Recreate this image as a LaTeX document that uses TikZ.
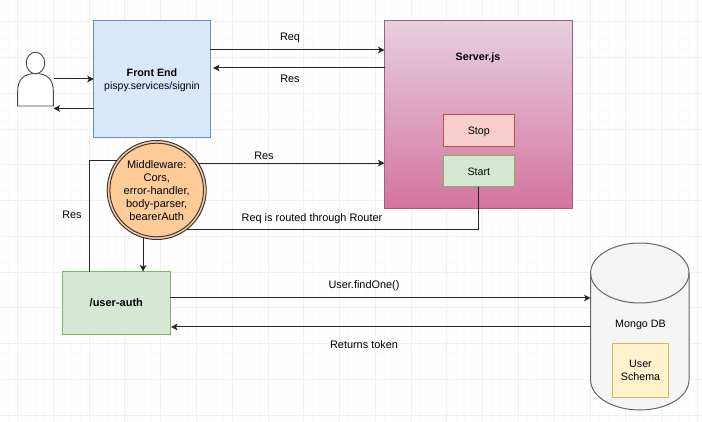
\documentclass[tikz,border=0pt]{standalone}
\usepackage{fontspec}
\setmainfont{Liberation Sans}
\usetikzlibrary{arrows.meta,shapes.geometric}
\definecolor{gridmajor}{HTML}{F0F0F0}
\definecolor{gridminor}{HTML}{FBFBFB}
\newcommand\tops[1][10.4pt]{\rule{0pt}{#1}}
\newcommand\bots{\rule[-2.2pt]{0pt}{0pt}}
\tikzset{
  x=1pt,y=-1pt,
  every node/.style={inner sep=0pt,outer sep=0pt,font=\fontsize{10.7}{13}\selectfont,align=center,text=black},
  conn/.style={line width=1pt,draw=black!85},
  arrowconn/.style={conn,-{Stealth[length=6.5pt,width=6.5pt,inset=1.5pt]}},
  lbl/.style={font=\fontsize{10.9}{13}\selectfont},
  strong/.style={font=\fontsize{10.7}{13}\selectfont\bfseries},
}
\begin{document}
\begin{tikzpicture}
\useasboundingbox (0,0) rectangle (702,422);
\fill[white] (0,0) rectangle (702,422);
% grid
\foreach \i in {-2,...,78} {
  \draw[gridminor,line width=0.8pt] ({17.6+8.945*\i},0) -- ({17.6+8.945*\i},422);
}
\foreach \i in {-2,...,46} {
  \draw[gridminor,line width=0.8pt] (0,{21.7+8.945*\i}) -- (702,{21.7+8.945*\i});
}
\foreach \i in {0,...,19} {
  \draw[gridmajor,line width=1pt] ({17.6+35.78*\i},0) -- ({17.6+35.78*\i},422);
}
\foreach \i in {0,...,11} {
  \draw[gridmajor,line width=1pt] (0,{21.7+35.78*\i}) -- (702,{21.7+35.78*\i});
}
% actor
\draw[line width=0.9pt,draw=black!72,fill=white]
  (17.6,106) -- (17.6,92) .. controls (17.6,79) and (24,73.5) .. (35.5,73.5)
  .. controls (47,73.5) and (53.4,79) .. (53.4,92) -- (53.4,106) -- cycle;
\draw[line width=0.9pt,draw=black!72,fill=white] (35.5,63) ellipse [x radius=9.2,y radius=10.8];
\coordinate (actorin) at (53.5,79);
\coordinate (actorout) at (53.5,108.5);
% boxes
\node[rectangle,draw={rgb,255:red,108;green,142;blue,191},fill={rgb,255:red,218;green,232;blue,252},line width=1pt,minimum width=116.5pt,minimum height=116.5pt] (fe) at (152,79) {\tops[11pt]\textbf{Front End}\\\fontsize{10.5}{13}\selectfont pispy.services/signin\bots};
\node[rectangle,draw={rgb,255:red,153;green,97;blue,133},top color={rgb,255:red,230;green,208;blue,222},bottom color={rgb,255:red,213;green,115;blue,157},line width=1pt,minimum width=188pt,minimum height=188pt] (server) at (478.5,115) {};
\node[strong] (servertitle) at (478,58) {Server.js};
\node[rectangle,draw={rgb,255:red,184;green,84;blue,80},fill={rgb,255:red,248;green,206;blue,204},line width=1pt,minimum width=71.5pt,minimum height=31.5pt] (stop) at (478.8,130.5) {\tops Stop\bots};
\node[rectangle,draw={rgb,255:red,130;green,179;blue,102},fill={rgb,255:red,213;green,232;blue,212},line width=1pt,minimum width=71.5pt,minimum height=31.5pt] (start) at (478.8,171) {\tops Start\bots};
\node[circle,draw={rgb,255:red,54;green,57;blue,61},fill={rgb,255:red,255;green,204;blue,153},line width=1pt,minimum size=99pt] (mw) at (156.7,190) {};
\node[circle,draw={rgb,255:red,54;green,57;blue,61},line width=1pt,minimum size=93pt,font=\fontsize{11}{13}\selectfont] (mwinner) at (156.7,190) {\tops[12pt]Middleware:\\Cors,\\error-handler,\\body-parser,\\bearerAuth\bots};
\node[rectangle,draw={rgb,255:red,130;green,179;blue,102},fill={rgb,255:red,213;green,232;blue,212},line width=1pt,minimum width=107.5pt,minimum height=62.5pt,font=\fontsize{11}{13}\selectfont] (ua) at (116.3,302.8) {\tops\textbf{/user-auth}\bots};
% database
\draw[line width=1pt,draw={rgb,255:red,102;green,102;blue,102},fill={rgb,255:red,245;green,245;blue,245}]
  (590.6,273) -- (590.6,380) arc[start angle=180,end angle=360,x radius=49.2,y radius=-30]
  -- (689,273) arc[start angle=0,end angle=180,x radius=49.2,y radius=-30] -- cycle;
\draw[line width=1pt,draw={rgb,255:red,102;green,102;blue,102}]
  (590.6,273) arc[start angle=180,end angle=360,x radius=49.2,y radius=-30];
\coordinate (dbwest) at (590.6,300);
\node (db) at (640.5,325) {Mongo DB};
\node[rectangle,draw={rgb,255:red,214;green,182;blue,86},fill={rgb,255:red,255;green,242;blue,204},line width=1pt,minimum width=55.5pt,minimum height=54pt] (schema) at (640.5,370) {\tops[11pt]User\\Schema\bots};
% helper levels
\coordinate (r1) at (0,50);
\coordinate (r2) at (0,68);
\coordinate (r3) at (0,298);
\coordinate (r4) at (0,327);
\coordinate (c1) at (89,0);
\coordinate (feback) at (213,68);
\coordinate (uaback) at (171,327);
% connectors
\draw[arrowconn] (actorin) -- (fe.west |- actorin);
\draw[arrowconn] (fe.west |- actorout) -- (actorout);
\draw[arrowconn] (fe.east |- r1) -- (server.west |- r1);
\draw[arrowconn] (server.west |- r2) -- (feback);
\draw[arrowconn] (mw.33.7) -- (server.west |- mw.33.7);
\draw[conn] (start.south) |- (mw.-52.9);
\draw[arrowconn] (mw.254) -- (mw.254 |- ua.north);
\draw[conn] (c1 |- ua.north) |- (mw.143.2);
\draw[arrowconn] (ua.east |- r3) -- (dbwest |- r3);
\draw[arrowconn] (dbwest |- r4) -- (uaback);
% labels
\node[lbl] (l1) at (290,38.3) {Req};
\node[lbl] (l2) at (290,79.3) {Res};
\node[lbl] (l3) at (264,155.8) {Res};
\node[lbl] (l4) at (312,219) {Req is routed through Router};
\node[lbl] (l5) at (72,214.8) {Res};
\node[lbl] (l6) at (364,286) {User.findOne()};
\node[lbl] (l7) at (364,344.2) {Returns token};
\end{tikzpicture}
\end{document}
